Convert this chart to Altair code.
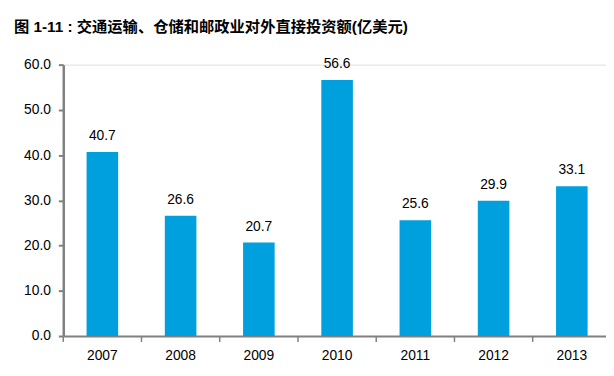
import altair as alt
import pandas as pd

years = ["2007", "2008", "2009", "2010", "2011", "2012", "2013"]
values = [40.7, 26.6, 20.7, 56.6, 25.6, 29.9, 33.1]
title_text = "图 1-11 :  交通运输、仓储和邮政业对外直接投资额(亿美元)"

df = pd.DataFrame({"year": years, "value": values})
FONT = "Liberation Sans, Arial, Noto Sans CJK SC"
AXIS_GRAY = "#808080"

base = alt.Chart(df)

bars = base.mark_bar(color="#00A0DE").encode(
    x=alt.X("year:N", sort=years,
            scale=alt.Scale(paddingInner=0.5965, paddingOuter=0.298),
            axis=alt.Axis(title=None, labelAngle=0, ticks=False, domain=True,
                          domainColor=AXIS_GRAY, domainWidth=2,
                          labelFontSize=14, labelColor="#000000", labelFont=FONT,
                          labelPadding=13)),
    y=alt.Y("value:Q", scale=alt.Scale(domain=[0, 60], nice=False),
            axis=alt.Axis(title=None, values=[0, 10, 20, 30, 40, 50, 60], format=".1f",
                          grid=False, domainColor=AXIS_GRAY, domainWidth=2.5,
                          tickColor=AXIS_GRAY, tickSize=5, tickWidth=2,
                          labelFontSize=14, labelColor="#000000", labelFont=FONT,
                          labelPadding=8)),
)

labels = base.mark_text(baseline="bottom", dy=-9, fontSize=14, font=FONT, color="#000000").encode(
    x=alt.X("year:N", sort=years,
            scale=alt.Scale(paddingInner=0.5965, paddingOuter=0.298)),
    y=alt.Y("value:Q"),
    text=alt.Text("value:Q", format=".1f"),
)

ticks = base.mark_rule(color=AXIS_GRAY, strokeWidth=1.5).encode(
    x=alt.X("year:N", sort=years, bandPosition=0,
            scale=alt.Scale(paddingInner=0, paddingOuter=0), axis=None),
    y=alt.value(276),
    y2=alt.value(281),
)

chart = alt.layer(bars, labels).resolve_scale(x="shared")
chart = alt.layer(chart, ticks).resolve_scale(x="independent").properties(
    width=555,
    height=275,
    autosize=alt.AutoSizeParams(type="none"),
    padding={"left": 56, "top": 55, "right": -5, "bottom": 31},
    title=alt.TitleParams(title_text, anchor="start", frame="group", fontSize=15.5,
                          fontWeight="bold", font=FONT, color="#000000", dx=-50, offset=22),
).configure_view(stroke=None).configure(background="white")

chart.save("out.html", embed_options={"renderer": "svg", "actions": False})
